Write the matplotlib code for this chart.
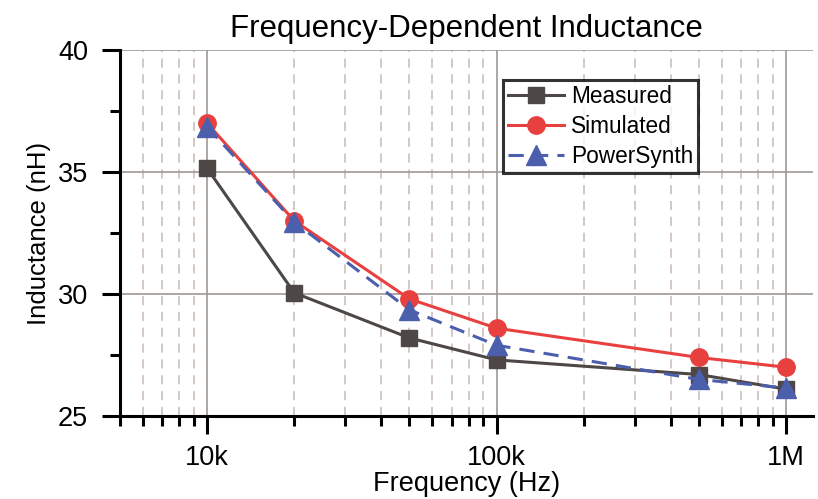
import matplotlib.pyplot as plt
from matplotlib.ticker import FixedLocator, NullFormatter

plt.rcParams['font.family'] = ['Liberation Sans', 'DejaVu Sans']

# data
freq = [1e4, 2e4, 5e4, 1e5, 5e5, 1e6]
measured = [35.15, 30.05, 28.2, 27.3, 26.7, 26.1]
simulated = [37.0, 33.0, 29.8, 28.6, 27.4, 27.0]
powersynth = [36.85, 32.95, 29.35, 27.9, 26.5, 26.15]

x_ticks = [1e4, 1e5, 1e6]
x_labels = ['10k', '100k', '1M']
y_ticks = [25, 30, 35, 40]

fig = plt.figure(figsize=(8.18, 4.99), dpi=100)
ax = fig.add_axes([0.1467, 0.1663, 0.8472, 0.7335])

ax.set_xscale('log')
ax.set_xlim(5e3, 1.24e6)
ax.set_ylim(25, 40)

# grid: solid majors, dashed vertical minors
minor_x = [k * 10 ** e for e in (3, 4, 5) for k in range(2, 10) if 5e3 <= k * 10 ** e < 1.24e6]
ax.xaxis.set_major_locator(FixedLocator(x_ticks))
ax.xaxis.set_minor_locator(FixedLocator(minor_x))
ax.xaxis.set_minor_formatter(NullFormatter())
ax.set_xticklabels(x_labels)
ax.yaxis.set_major_locator(FixedLocator(y_ticks))
ax.yaxis.set_minor_locator(FixedLocator([27.5, 32.5, 37.5]))

ax.grid(True, which='major', color='#9e9894', linewidth=1.2, linestyle='-')
ax.grid(True, which='minor', axis='x', color='#cbbfba', linewidth=1.2,
        linestyle=(0, (5.5, 4)))
ax.set_axisbelow(True)

ax.plot(freq, measured, color='#4d4745', marker='s', markersize=11.5,
        linewidth=2.2, label='Measured', zorder=3)
ax.plot(freq, simulated, color='#e8403f', marker='o', markersize=12.5,
        linewidth=2.2, label='Simulated', zorder=4)
ax.plot(freq, powersynth, color='#4b5fad', marker='^', markersize=14,
        linewidth=2.2, linestyle=(0, (5, 3)), label='PowerSynth', zorder=5)

for s in ('top', 'right'):
    ax.spines[s].set_visible(False)
for s in ('left', 'bottom'):
    ax.spines[s].set_linewidth(2.2)
    ax.spines[s].set_color('black')

ax.tick_params(which='major', direction='out', length=13, width=2.2,
               labelsize=19.5)
ax.tick_params(axis='x', which='major', pad=8)
ax.tick_params(axis='y', which='major', pad=10)
ax.tick_params(which='minor', direction='out', length=7, width=2.2)

ax.set_title('Frequency-Dependent Inductance', fontsize=22.5, pad=9)
ax.set_xlabel('Frequency (Hz)', fontsize=19.5, labelpad=0)
ax.set_ylabel('Inductance (nH)', fontsize=18.5, labelpad=5)

leg = ax.legend(loc='upper left', bbox_to_anchor=(0.553, 0.918), fontsize=16.3,
                frameon=True, fancybox=False, handlelength=2.5,
                borderpad=0.2, labelspacing=0.32, handletextpad=0.3,
                borderaxespad=0)
leg.get_frame().set_edgecolor('black')
leg.get_frame().set_linewidth(2.2)

fig.savefig('out.png', dpi=100)
